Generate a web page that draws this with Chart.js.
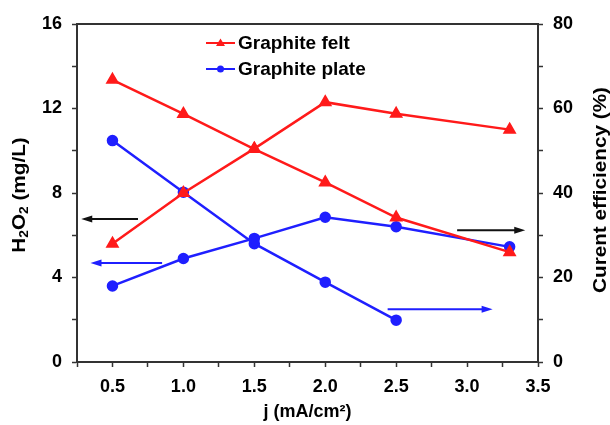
<!DOCTYPE html>
<html>
<head>
<meta charset="utf-8">
<script src="https://cdn.jsdelivr.net/npm/chart.js"></script>
<style>
  html, body { margin: 0; padding: 0; background: #fff; }
  #wrap { width: 610px; height: 425px; }
</style>
</head>
<body>
<div id="wrap"><canvas id="chart" width="610" height="425"></canvas></div>
<script>
// data
const currentDensity = [0.5, 1.0, 1.5, 2.0, 2.5, 3.3];   // j (mA/cm2)
const feltH2O2 = [5.6, 8.0, 10.1, 12.3, 11.75, 11.0];     // mg/L, left axis
const feltEfficiency = [66.8, 58.7, 50.4, 42.5, 34.2, 26.0]; // %, right axis
const plateH2O2 = [3.6, 4.9, 5.85, 6.85, 6.4, 5.45];
const plateEfficiency = [52.4, 40.2, 28.0, 18.9, 9.9];
const seriesNames = ['Graphite felt', 'Graphite plate'];
const h2o2Ticks = [0, 4, 8, 12, 16];
const effTicks = [0, 20, 40, 60, 80];
const jTicks = [0.5, 1.0, 1.5, 2.0, 2.5, 3.0, 3.5];

// arrows pointing at the axis each curve belongs to (data coords)
const arrows = [
  {axis: 'yL', y: 6.77, from: 0.68, to: 0.28, color: '#111'},
  {axis: 'yL', y: 4.69, from: 0.85, to: 0.345, color: '#1f1fff'},
  {axis: 'yR', y: 31.2, from: 2.93, to: 3.41, color: '#111'},
  {axis: 'yR', y: 12.5, from: 2.44, to: 3.18, color: '#1f1fff'}
];

const RED = '#ff1a1a';
const BLUE = '#1f1fff';
const AXIS = '#333';
const FONT = '"Liberation Sans", Arial, sans-serif';

const pts = (ys) => ys.map((v, i) => ({x: currentDensity[i], y: v}));
const near = (v, list) => list.some(t => Math.abs(t - v) < 1e-6);

function drawParts(ctx, parts, size) {
  // parts drawn left to right centred on 0,0
  const subSize = Math.round(size * 0.68);
  let w = 0;
  parts.forEach(p => {
    ctx.font = 'bold ' + (p.sub ? subSize : size) + 'px ' + FONT;
    p.w = ctx.measureText(p.t).width;
    w += p.w;
  });
  let x = -w / 2;
  ctx.textBaseline = 'middle';
  ctx.textAlign = 'left';
  parts.forEach(p => {
    ctx.font = 'bold ' + (p.sub ? subSize : size) + 'px ' + FONT;
    ctx.fillText(p.t, x, p.sub ? size * 0.28 : 0);
    x += p.w;
  });
}

const overlay = {
  id: 'overlay',
  afterDraw(chart) {
    const {ctx, chartArea: a, scales} = chart;
    ctx.save();
    ctx.strokeStyle = AXIS;
    ctx.lineWidth = 2;
    ctx.beginPath();
    ctx.moveTo(a.left - 1, a.top);
    ctx.lineTo(a.right + 1, a.top);
    ctx.stroke();

    arrows.forEach(ar => {
      const y = scales[ar.axis].getPixelForValue(ar.y);
      const x0 = scales.x.getPixelForValue(ar.from);
      const x1 = scales.x.getPixelForValue(ar.to);
      const d = Math.sign(x1 - x0);
      ctx.strokeStyle = ar.color;
      ctx.fillStyle = ar.color;
      ctx.lineWidth = 2;
      ctx.beginPath();
      ctx.moveTo(x0, y);
      ctx.lineTo(x1 - d * 8, y);
      ctx.stroke();
      ctx.beginPath();
      ctx.moveTo(x1, y);
      ctx.lineTo(x1 - d * 11, y - 3.5);
      ctx.lineTo(x1 - d * 11, y + 3.5);
      ctx.closePath();
      ctx.fill();
    });

    // legend
    const items = [
      {name: seriesNames[0], color: RED, shape: 'tri', y: 43},
      {name: seriesNames[1], color: BLUE, shape: 'dot', y: 69}
    ];
    items.forEach(it => {
      ctx.strokeStyle = it.color;
      ctx.fillStyle = it.color;
      ctx.lineWidth = 2;
      ctx.beginPath();
      ctx.moveTo(206, it.y);
      ctx.lineTo(235, it.y);
      ctx.stroke();
      ctx.beginPath();
      if (it.shape === 'tri') {
        ctx.moveTo(220.5, it.y - 4.5);
        ctx.lineTo(225, it.y + 3);
        ctx.lineTo(216, it.y + 3);
        ctx.closePath();
      } else {
        ctx.arc(220.5, it.y, 3.5, 0, Math.PI * 2);
      }
      ctx.fill();
      ctx.fillStyle = '#000';
      ctx.font = 'bold 19px ' + FONT;
      ctx.textAlign = 'left';
      ctx.textBaseline = 'middle';
      ctx.fillText(it.name, 238, it.y + 1);
    });

    // vertical axis titles
    const midY = (a.top + a.bottom) / 2;
    ctx.fillStyle = '#000';
    ctx.save();
    ctx.translate(20, midY + 2);
    ctx.rotate(-Math.PI / 2);
    ctx.scale(1.15, 1);
    drawParts(ctx, [{t: 'H'}, {t: '2', sub: true}, {t: 'O'}, {t: '2', sub: true}, {t: ' (mg/L)'}], 18);
    ctx.restore();

    ctx.save();
    ctx.translate(601, midY - 3);
    ctx.rotate(-Math.PI / 2);
    ctx.scale(1.15, 1);
    drawParts(ctx, [{t: 'Curent efficiency (%)'}], 18);
    ctx.restore();

    ctx.restore();
  }
};

const tickFont = {family: FONT, size: 18, weight: 'bold'};

new Chart(document.getElementById('chart'), {
  type: 'line',
  data: {
    datasets: [
      {data: pts(feltEfficiency), yAxisID: 'yR', borderColor: RED, backgroundColor: RED,
       pointStyle: 'triangle', pointRadius: 5.5, borderWidth: 2.5},
      {data: pts(feltH2O2), yAxisID: 'yL', borderColor: RED, backgroundColor: RED,
       pointStyle: 'triangle', pointRadius: 5.5, borderWidth: 2.5},
      {data: pts(plateH2O2), yAxisID: 'yL', borderColor: BLUE, backgroundColor: BLUE,
       pointStyle: 'circle', pointRadius: 4.5, borderWidth: 2.5},
      {data: pts(plateEfficiency), yAxisID: 'yR', borderColor: BLUE, backgroundColor: BLUE,
       pointStyle: 'circle', pointRadius: 4.5, borderWidth: 2.5}
    ]
  },
  options: {
    responsive: false,
    animation: false,
    events: [],
    layout: {padding: {top: 24, left: 0, right: 0, bottom: 0}},
    plugins: {legend: {display: false}, tooltip: {enabled: false}},
    scales: {
      x: {
        type: 'linear', min: 0.25, max: 3.5,
        afterFit: s => { s.height = 63; },
        border: {color: AXIS, width: 2},
        grid: {drawOnChartArea: false, tickLength: 5, tickColor: AXIS, tickWidth: 1.5},
        ticks: {
          stepSize: 0.25, color: '#000', font: tickFont, padding: 9, maxRotation: 0, autoSkip: false,
          callback: v => near(v, jTicks) ? v.toFixed(1) : ''
        },
        title: {display: true, text: 'j (mA/cm²)', color: '#000', font: tickFont, padding: {top: 0, bottom: 2}}
      },
      yL: {
        position: 'left', min: 0, max: 16,
        afterFit: s => { s.width = 77; },
        border: {color: AXIS, width: 2},
        grid: {drawOnChartArea: false, tickLength: 5, tickColor: AXIS, tickWidth: 1.5},
        ticks: {
          stepSize: 2, color: '#000', font: tickFont, padding: 10, autoSkip: false,
          callback: v => near(v, h2o2Ticks) ? String(v) : ''
        }
      },
      yR: {
        position: 'right', min: 0, max: 80,
        afterFit: s => { s.width = 72; },
        border: {color: AXIS, width: 2},
        grid: {drawOnChartArea: false, tickLength: 5, tickColor: AXIS, tickWidth: 1.5},
        ticks: {
          stepSize: 10, color: '#000', font: tickFont, padding: 10, autoSkip: false,
          callback: v => near(v, effTicks) ? String(v) : ''
        }
      }
    }
  },
  plugins: [overlay]
});
</script>
</body>
</html>
